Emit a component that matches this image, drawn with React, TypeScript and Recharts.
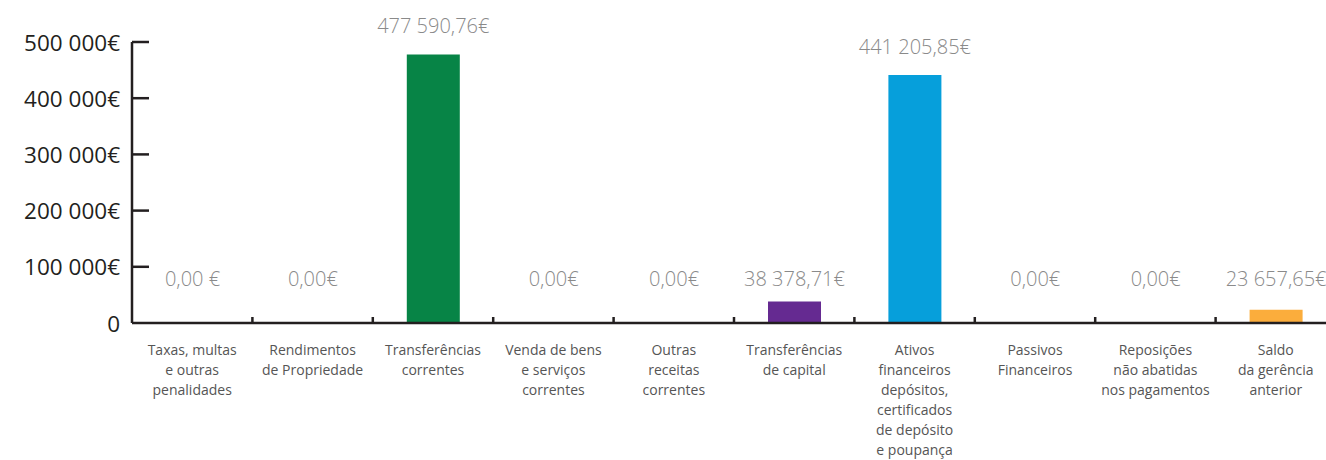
import React from "react";
import { BarChart, Bar, XAxis, YAxis, Cell, LabelList } from "recharts";

const categories = [
  "Taxas, multas\ne outras\npenalidades",
  "Rendimentos\nde Propriedade",
  "Transferências\ncorrentes",
  "Venda de bens\ne serviços\ncorrentes",
  "Outras\nreceitas\ncorrentes",
  "Transferências\nde capital",
  "Ativos\nfinanceiros\ndepósitos,\ncertificados\nde depósito\ne poupança",
  "Passivos\nFinanceiros",
  "Reposições\nnão abatidas\nnos pagamentos",
  "Saldo\nda gerência\nanterior",
];

const values = [0, 0, 477590.76, 0, 0, 38378.71, 441205.85, 0, 0, 23657.65];

const valueLabels = [
  "0,00 €",
  "0,00€",
  "477 590,76€",
  "0,00€",
  "0,00€",
  "38 378,71€",
  "441 205,85€",
  "0,00€",
  "0,00€",
  "23 657,65€",
];

const barColors = [
  "#6a8f3c",
  "#8a8a8a",
  "#078446",
  "#7a7a7a",
  "#2a6f8f",
  "#652a91",
  "#069fdb",
  "#8a6a3a",
  "#8a3a3a",
  "#fbad3c",
];

const yTicks = [0, 100000, 200000, 300000, 400000, 500000];

const data = categories.map((name, i) => ({
  name,
  value: values[i],
  label: valueLabels[i],
}));

const CHART_W = 1336;
const CHART_H = 460;
const Y_W = 132;
const BAND = (CHART_W - Y_W) / categories.length;
const AXIS_COLOR = "#231f20";
const FONT = "'Open Sans', sans-serif";

function formatY(v: number) {
  return v === 0 ? "0" : `${v / 1000} 000€`;
}

function YTick(props: any) {
  const { x, y, payload } = props;
  return (
    <g>
      {payload.value !== 0 && (
        <line x1={x} x2={x + 17} y1={y} y2={y} stroke={AXIS_COLOR} strokeWidth={2.5} />
      )}
      <text
        x={x - 12}
        y={y}
        textAnchor="end"
        dominantBaseline="central"
        fill={AXIS_COLOR}
        fontSize={22.5}
        fontFamily={FONT}
      >
        {formatY(payload.value)}
      </text>
    </g>
  );
}

function XTick(props: any) {
  const { x, y, payload, index } = props;
  const lines = String(payload.value).split("\n");
  const bx = x - BAND / 2;
  return (
    <g>
      {index > 0 && (
        <line x1={bx} x2={bx} y1={y - 6} y2={y} stroke={AXIS_COLOR} strokeWidth={2.5} />
      )}
      <text
        x={x}
        y={y + 32}
        textAnchor="middle"
        fill="#555555"
        fontSize={14}
        fontFamily={FONT}
      >
        {lines.map((l, i) => (
          <tspan key={i} x={x} dy={i === 0 ? 0 : 20}>
            {l}
          </tspan>
        ))}
      </text>
    </g>
  );
}

function ValueLabel(props: any) {
  const { x, y, width, height, value } = props;
  // small bars share one label row, tall bars get the label just above
  const cy = Math.abs(height) < 60 ? 278 : y - 29;
  return (
    <text
      x={x + width / 2}
      y={cy}
      textAnchor="middle"
      dominantBaseline="central"
      fill="#8a8a8a"
      fontSize={20}
      fontWeight={300}
      fontFamily={FONT}
    >
      {value}
    </text>
  );
}

export default function App() {
  return (
    <div
      style={{
        position: "absolute",
        left: 0,
        top: 0,
        width: 1326,
        height: CHART_H,
        overflow: "hidden",
        background: "#fff",
      }}
    >
      <BarChart
        width={CHART_W}
        height={CHART_H}
        data={data}
        margin={{ top: 42, right: 0, bottom: 0, left: 0 }}
        barSize={53}
      >
        <YAxis
          width={Y_W}
          domain={[0, 500000]}
          ticks={yTicks}
          interval={0}
          tickLine={false}
          tickSize={0}
          tickMargin={0}
          axisLine={{ stroke: AXIS_COLOR, strokeWidth: 2.5 }}
          tick={<YTick />}
        />
        <XAxis
          dataKey="name"
          height={137}
          interval={0}
          tickLine={false}
          tickSize={0}
          tickMargin={0}
          axisLine={{ stroke: AXIS_COLOR, strokeWidth: 2.5 }}
          tick={<XTick />}
        />
        <Bar dataKey="value" isAnimationActive={false} minPointSize={1}>
          {data.map((d, i) => (
            <Cell key={i} fill={barColors[i]} />
          ))}
          <LabelList dataKey="label" content={<ValueLabel />} />
        </Bar>
      </BarChart>
    </div>
  );
}
